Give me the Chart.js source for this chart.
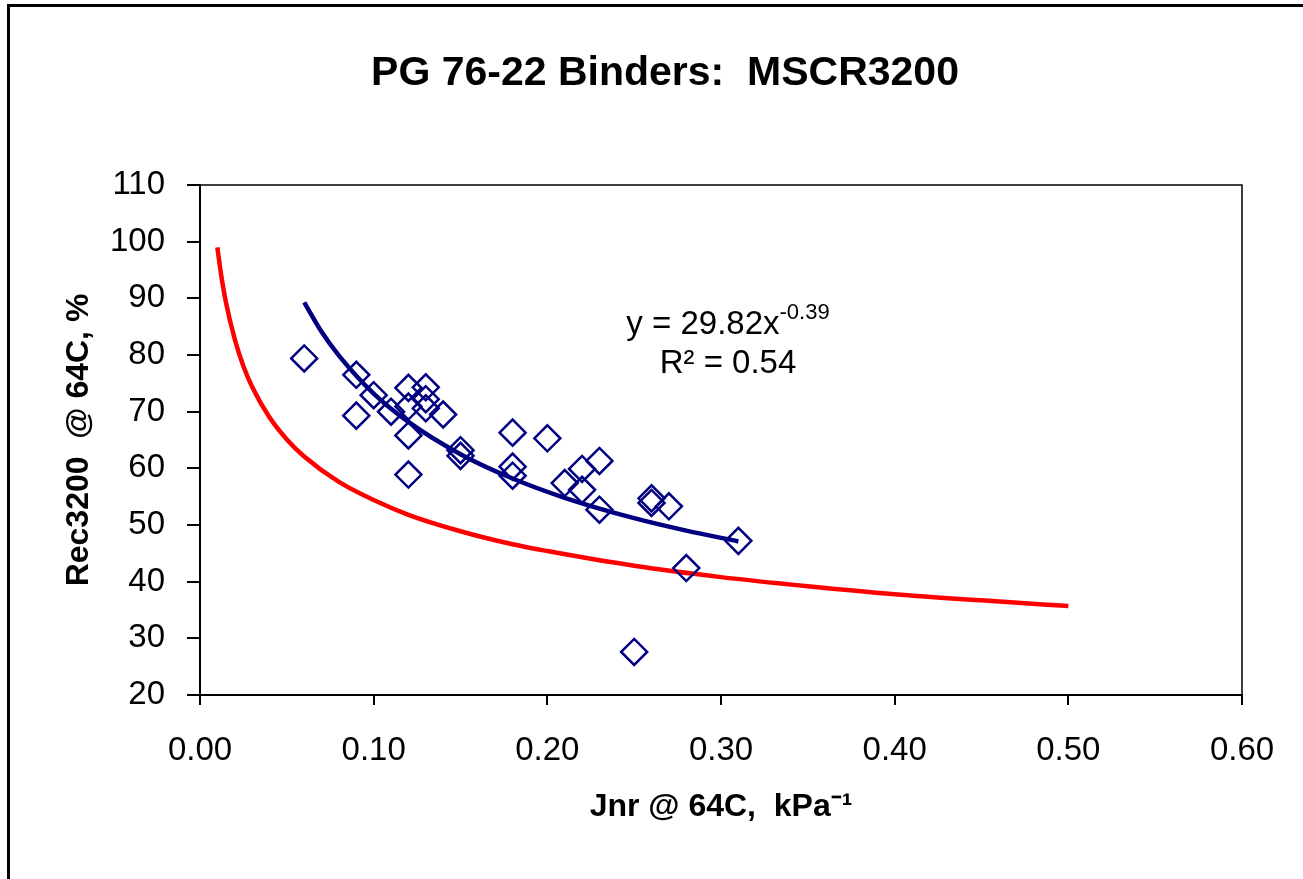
<!DOCTYPE html>
<html>
<head>
<meta charset="utf-8">
<script src="https://cdn.jsdelivr.net/npm/chart.js@4"></script>
<style>
  body { margin: 0; background: #fff; }
  canvas { display: block; }
</style>
</head>
<body>
<canvas id="mscr" width="1303" height="879"></canvas>
<script>
// meetpunten (Jnr, Rec3200)
const jnr = [0.06, 0.09, 0.09, 0.10, 0.11, 0.12, 0.12, 0.12, 0.12, 0.13, 0.13, 0.13, 0.14, 0.15, 0.15,
             0.18, 0.18, 0.18, 0.20, 0.21, 0.22, 0.22, 0.23, 0.23, 0.25, 0.26, 0.26, 0.27, 0.28, 0.31];
const rec = [79.4, 76.5, 69.3, 72.9, 70.0, 74.2, 70.9, 65.8, 58.9, 74.3, 72.2, 70.6, 69.5, 62.2, 63.2,
             66.3, 60.3, 58.7, 65.3, 57.4, 59.9, 56.2, 61.3, 52.7, 27.6, 54.7, 53.9, 53.3, 42.4, 47.2];

const trendX = [0.06, 0.07, 0.08, 0.10, 0.12, 0.15, 0.18, 0.21, 0.25, 0.28, 0.31];
const trendY = [89.3, 84.1, 79.9, 73.2, 68.2, 62.5, 58.2, 54.8, 51.2, 49.0, 47.1];

const limitX = [0.01, 0.012, 0.015, 0.02, 0.025, 0.03, 0.04, 0.05, 0.06, 0.08, 0.10, 0.12, 0.15,
                0.18, 0.20, 0.25, 0.30, 0.35, 0.40, 0.45, 0.50];
const limitY = [99.0, 94.5, 89.2, 82.8, 78.0, 74.4, 69.0, 65.1, 62.1, 57.6, 54.4, 51.8, 48.9,
                46.6, 45.4, 42.8, 40.8, 39.2, 37.8, 36.7, 35.7];

const xTicks = [0, 0.1, 0.2, 0.3, 0.4, 0.5, 0.6];
const yTicks = [20, 30, 40, 50, 60, 70, 80, 90, 100, 110];

const titel = 'PG 76-22 Binders:  MSCR3200';
const vergelijking = { base: 'y = 29.82x', exp: '-0.39', r2: 'R\u00b2 = 0.54' };

const FONT = '"Liberation Sans", Arial, sans-serif';
const toPts = (xs, ys) => xs.map((x, i) => ({ x: x, y: ys[i] }));

const extras = {
    id: 'extras',
    afterDraw(chart) {
        const ctx = chart.ctx;
        const area = chart.chartArea;
        ctx.save();
        // kader rond grafiek
        ctx.strokeStyle = '#000';
        ctx.lineWidth = 3;
        ctx.beginPath();
        ctx.moveTo(8.5, 1000);
        ctx.lineTo(8.5, 5.5);
        ctx.lineTo(1400, 5.5);
        ctx.stroke();
        // kader plotgebied (boven en rechts)
        ctx.lineWidth = 1.5;
        ctx.beginPath();
        ctx.moveTo(area.left, area.top);
        ctx.lineTo(area.right, area.top);
        ctx.lineTo(area.right, area.bottom);
        ctx.stroke();
        // titel
        ctx.fillStyle = '#000';
        ctx.font = 'bold 41px ' + FONT;
        ctx.textAlign = 'center';
        ctx.textBaseline = 'alphabetic';
        ctx.fillText(titel, 665, 85);
        // vergelijking
        ctx.textAlign = 'left';
        ctx.font = '33px ' + FONT;
        const wBase = ctx.measureText(vergelijking.base).width;
        ctx.font = '22px ' + FONT;
        const wExp = ctx.measureText(vergelijking.exp).width;
        const cx = 728;
        const x0 = cx - (wBase + wExp) / 2;
        ctx.font = '33px ' + FONT;
        ctx.fillText(vergelijking.base, x0, 334);
        ctx.font = '22px ' + FONT;
        ctx.fillText(vergelijking.exp, x0 + wBase, 319);
        ctx.font = '33px ' + FONT;
        ctx.textAlign = 'center';
        ctx.fillText(vergelijking.r2, cx, 373);
        ctx.restore();
    }
};

const ctx = document.getElementById('mscr').getContext('2d');
new Chart(ctx, {
    type: 'scatter',
    data: {
        datasets: [{
            label: 'trend',
            data: toPts(trendX, trendY),
            showLine: true,
            borderColor: '#000080',
            borderWidth: 4.5,
            pointRadius: 0,
            cubicInterpolationMode: 'monotone',
            order: 0
        }, {
            label: 'MSCR3200',
            data: toPts(jnr, rec),
            pointStyle: 'rectRot',
            pointRadius: 13,
            borderColor: '#000080',
            borderWidth: 2.5,
            backgroundColor: 'rgba(0,0,0,0)',
            order: 1
        }, {
            label: 'grens',
            data: toPts(limitX, limitY),
            showLine: true,
            borderColor: '#ff0000',
            borderWidth: 4.5,
            pointRadius: 0,
            cubicInterpolationMode: 'monotone',
            order: 2
        }]
    },
    options: {
        responsive: false,
        animation: false,
        layout: { padding: { top: 185, right: 61, bottom: 50, left: 40 } },
        plugins: {
            legend: { display: false },
            tooltip: { enabled: false }
        },
        scales: {
            x: {
                type: 'linear',
                min: 0,
                max: 0.6,
                afterBuildTicks: s => { s.ticks = xTicks.map(v => ({ value: v })); },
                afterFit: s => { s.height = 134; },
                grid: { drawOnChartArea: false, color: '#000', lineWidth: 2, tickLength: 10 },
                border: { color: '#000', width: 2 },
                ticks: {
                    color: '#000',
                    padding: 26,
                    maxRotation: 0,
                    font: { family: FONT, size: 33 },
                    callback: v => v.toFixed(2)
                },
                title: {
                    display: true,
                    text: 'Jnr @ 64C,  kPa\u207b\u00b9',
                    color: '#000',
                    font: { family: FONT, size: 32, weight: 'bold' },
                    padding: { top: 17, bottom: 3 }
                }
            },
            y: {
                min: 20,
                max: 110,
                afterBuildTicks: s => { s.ticks = yTicks.map(v => ({ value: v })); },
                afterFit: s => { s.width = 160; },
                grid: { drawOnChartArea: false, color: '#000', lineWidth: 2, tickLength: 13 },
                border: { color: '#000', width: 2 },
                ticks: {
                    color: '#000',
                    padding: 22,
                    font: { family: FONT, size: 33 }
                },
                title: {
                    display: true,
                    text: 'Rec3200  @ 64C, %',
                    color: '#000',
                    font: { family: FONT, size: 32, weight: 'bold' },
                    padding: { top: 20, bottom: 19 }
                }
            }
        }
    },
    plugins: [extras]
});
</script>
</body>
</html>
